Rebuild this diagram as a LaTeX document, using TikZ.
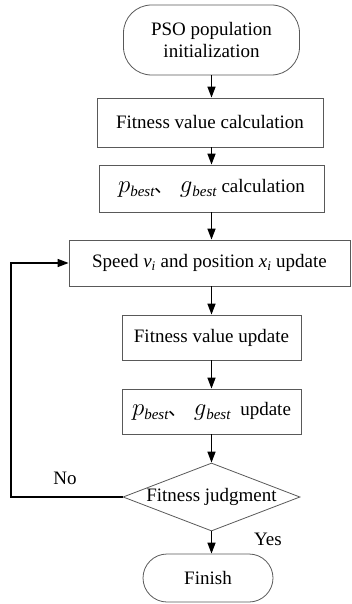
\documentclass[tikz,border=0pt]{standalone}
\usepackage{fontspec}
\setmainfont{Liberation Serif}
\newfontfamily\cjk{Noto Sans CJK SC}
\usetikzlibrary{shapes.geometric,arrows.meta}
\newcommand{\bsub}{\raisebox{-4pt}{\fontsize{15}{15}\selectfont\textit{best}}}
\newcommand{\pbg}{{\fontsize{24}{24}\selectfont$p$}\bsub{\cjk 、}\hspace{6pt}{\fontsize{24}{24}\selectfont$g$}\bsub}
\tikzset{
  boxx/.style={draw=black!65, line width=0.8pt, rectangle, inner sep=0pt, align=center},
  term/.style={boxx, rounded corners=24pt},
  conn/.style={-{Triangle[length=11pt,width=8pt]}, line width=1.5pt, black},
}
\begin{document}
\begin{tikzpicture}[x=1pt,y=-1pt,font=\fontsize{19}{22}\selectfont]
\useasboundingbox (0,0) rectangle (351,604);
\node[term, rounded corners=28pt, minimum width=176pt, minimum height=70pt] (start) at (211.5,40) {PSO population\\initialization};
\node[boxx, minimum width=226pt, minimum height=49pt] (b1) at (210,122.5) {Fitness value calculation};
\node[boxx, minimum width=225pt, minimum height=47pt] (b2) at (211.5,188.5) {\pbg\ calculation};
\node[boxx, minimum width=281pt, minimum height=46pt] (b3) at (209.5,263) {Speed \textit{v}\textsubscript{\textit{i}} and position \textit{x}\textsubscript{\textit{i}} update};
\node[boxx, minimum width=179pt, minimum height=45pt] (b4) at (211.5,337.5) {Fitness value update};
\node[boxx, minimum width=179pt, minimum height=45pt] (b5) at (211.5,411.5) {\pbg\ \ update};
\node[diamond, draw=black!65, line width=0.8pt, minimum width=177pt, minimum height=68pt, inner sep=0pt, label={[name=djt]center:Fitness judgment}] (dj) at (211.5,497) {};
\node[term, minimum width=130pt, minimum height=48pt] (fin) at (208,578) {Finish};
\coordinate (fb) at (11,0);
\draw[conn] (start.south -| 211.5,0) -- (211.5,0 |- b1.north);
\draw[conn] (b1.south -| 211.5,0) -- (211.5,0 |- b2.north);
\draw[conn] (b2.south) -- (b2.south |- b3.north);
\draw[conn] (b3.south -| 211.5,0) -- (211.5,0 |- b4.north);
\draw[conn] (b4.south) -- (b5.north);
\draw[conn] (b5.south) -- (dj.north);
\draw[conn] (dj.south) -- (dj.south |- fin.north);
\draw[conn] (dj.west) -- (dj.west -| fb) |- (b3.west);
\node (no) at (65,478) {No};
\node (yes) at (268,539) {Yes};
\end{tikzpicture}
\end{document}
